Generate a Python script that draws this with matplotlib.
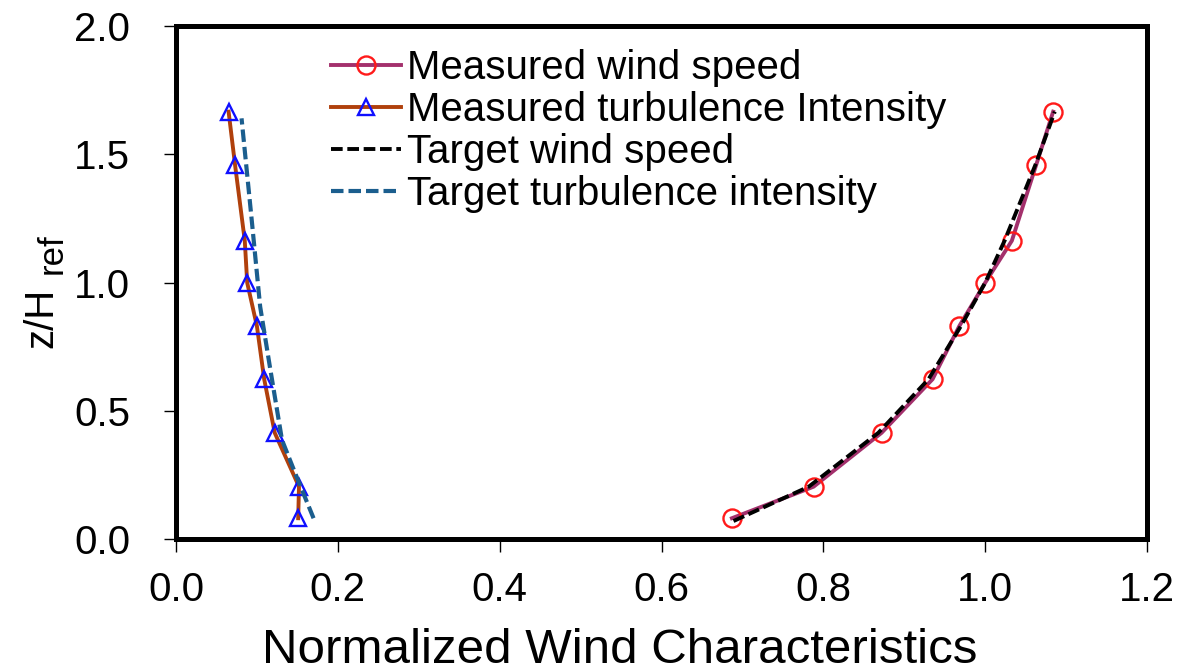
import matplotlib
matplotlib.use("Agg")
import matplotlib.pyplot as plt

plt.rcParams["font.family"] = ["Liberation Sans", "DejaVu Sans"]

# normalised heights z/Href of the measuring points
z_meas = [0.081, 0.204, 0.414, 0.623, 0.830, 0.999, 1.163, 1.458, 1.666]

# measured profiles
ws_meas = [0.687, 0.788, 0.872, 0.935, 0.968, 1.000, 1.033, 1.063, 1.084]
ti_meas = [0.151, 0.152, 0.122, 0.109, 0.100, 0.088, 0.085, 0.073, 0.065]

# target profiles
z_ws_target = [0.070, 0.204, 0.414, 0.623, 0.830, 0.999, 1.163, 1.458, 1.666]
ws_target = [0.689, 0.782, 0.868, 0.930, 0.970, 1.000, 1.024, 1.062, 1.086]
z_ti_target = [0.081, 0.243, 0.386, 0.672, 0.906, 1.230, 1.640]
ti_target = [0.170, 0.149, 0.131, 0.116, 0.104, 0.094, 0.081]

xticks = [0.0, 0.2, 0.4, 0.6, 0.8, 1.0, 1.2]
yticks = [0.0, 0.5, 1.0, 1.5, 2.0]

W, H = 1182, 672
fig = plt.figure(figsize=(W / 100, H / 100), dpi=100)
ax = fig.add_axes([176 / W, 133 / H, 971 / W, 513 / H])

dash = (0, (3.0, 1.2))
ax.plot(ws_meas, z_meas, color="#a3306c", lw=2.8, marker="o", ms=13,
        mfc="none", mec="#ff1a1a", mew=1.7, label="Measured wind speed")
ax.plot(ti_meas, z_meas, color="#b0400c", lw=2.8, marker="^", ms=12,
        mfc="none", mec="#1010ff", mew=1.7, label="Measured turbulence Intensity")
ax.plot(ws_target, z_ws_target, color="black", lw=2.8, ls=dash,
        label="Target wind speed")
ax.plot(ti_target, z_ti_target, color="#1b5e8e", lw=3.0, ls=dash,
        label="Target turbulence intensity")

ax.set_xlim(0, 1.2)
ax.set_ylim(0, 2.0)
ax.set_xticks(xticks)
ax.set_yticks(yticks)
ax.set_xticklabels([f"{v:.1f}" for v in xticks])
ax.set_yticklabels([f"{v:.1f}" for v in yticks])
ax.tick_params(direction="out", length=9, width=1.0, labelsize=29, pad=14)
ax.tick_params(axis="y", pad=24)

for s in ax.spines.values():
    s.set_linewidth(3.6)

ax.set_xlabel("Normalized Wind Characteristics", fontsize=35.5)
ax.xaxis.set_label_coords((620 - 176) / 971, (539 - 663) / 513)
ax.xaxis.label.set_verticalalignment("baseline")

# y label with a large, lowered "ref" subscript
fig.text(52 / W, 1 - 348 / H, "z/H", fontsize=29, rotation=90,
         rotation_mode="anchor", ha="left", va="baseline")
fig.text(62 / W, 1 - 274 / H, "ref", fontsize=25, rotation=90,
         rotation_mode="anchor", ha="left", va="baseline")

ax.legend(loc="upper left", bbox_to_anchor=(0.16, 0.955), frameon=False,
          fontsize=29, numpoints=1, handlelength=1.74, handletextpad=0.15,
          labelspacing=0.1, borderpad=0, borderaxespad=0)

fig.savefig("out.png", dpi=100)
